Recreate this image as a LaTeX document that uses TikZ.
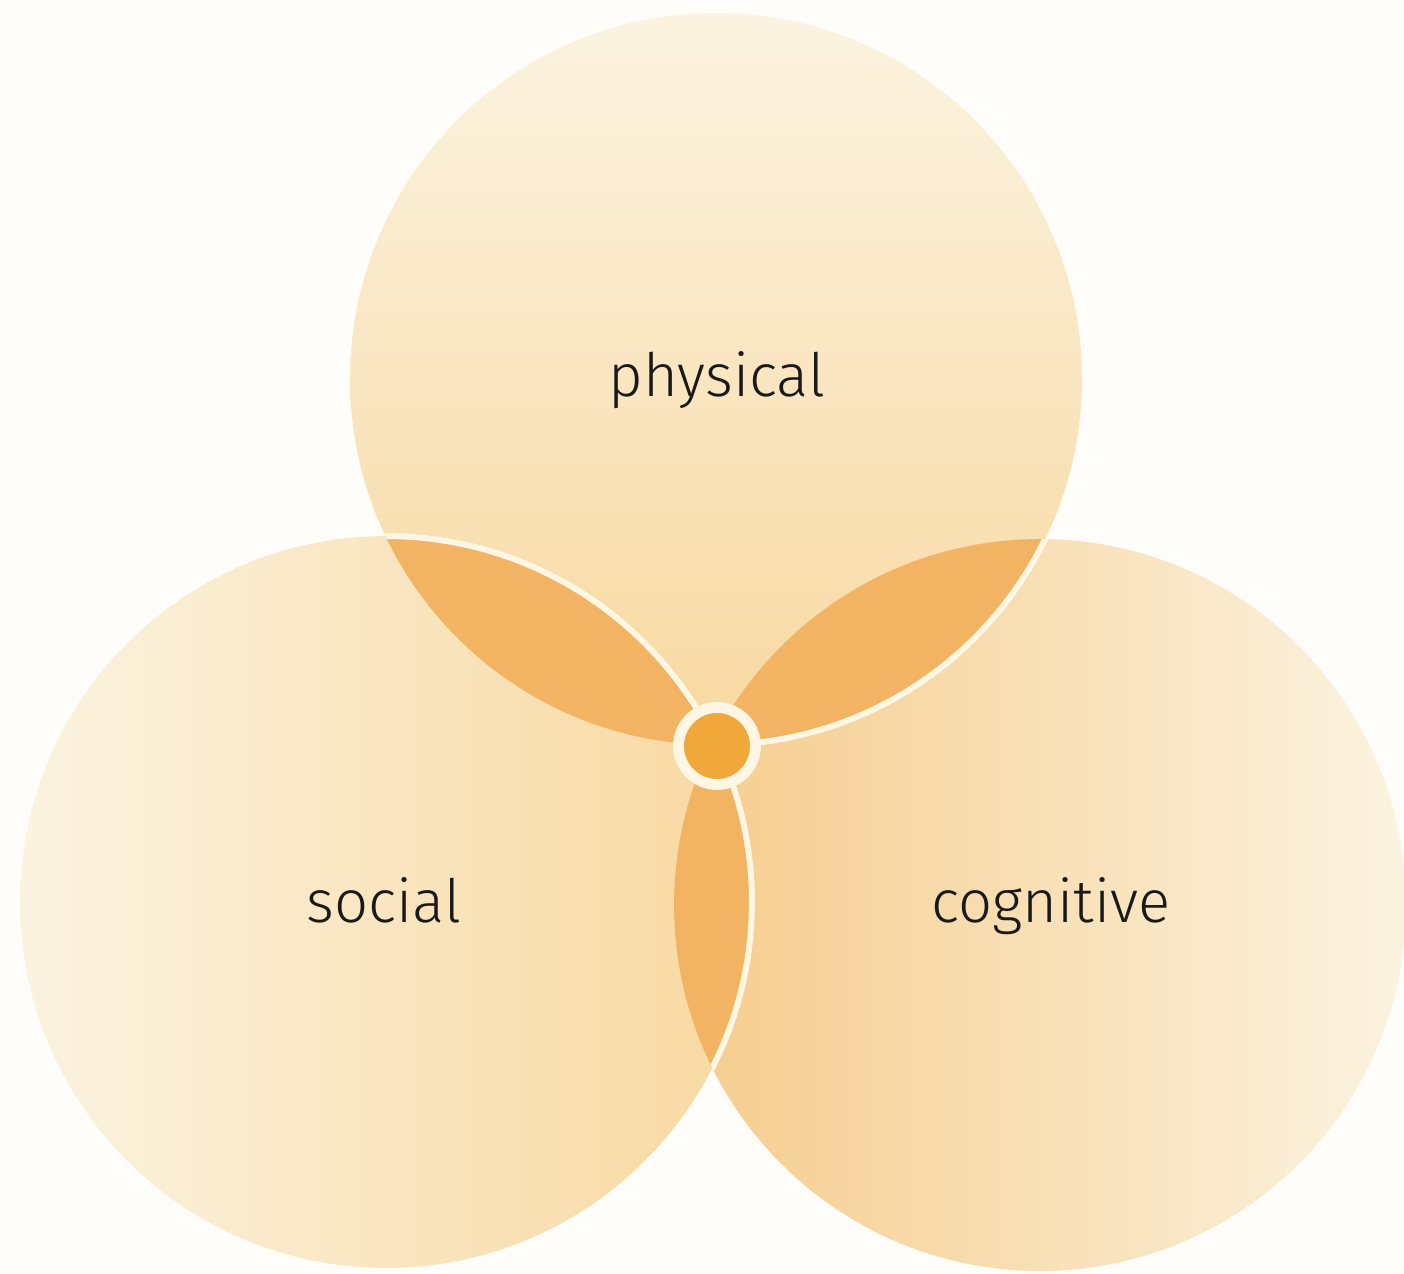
\documentclass[tikz,border=0pt]{standalone}
\usepackage{fontspec}
\setmainfont{Fira Sans Light}
\usepackage{tikz}
\usetikzlibrary{positioning,calc}
\definecolor{vnPaper}{RGB}{254,253,249}
\definecolor{vnPale}{RGB}{251,243,224}
\definecolor{vnPeach}{RGB}{248,216,160}
\definecolor{vnWarm}{RGB}{246,204,140}
\definecolor{vnLens}{RGB}{242,180,98}
\definecolor{vnCore}{RGB}{240,168,58}
\definecolor{vnEdge}{RGB}{255,247,228}

\begin{document}
\begin{tikzpicture}[
    x=0.02cm, y=-0.02cm,
    edge/.style={draw=vnEdge, line width=3.4pt},
    lens/.style={fill=vnLens},
    label/.style={font=\fontsize{34}{40}\selectfont, text=black!90, anchor=base, inner sep=0pt}
]
  \def\rad{7.32cm}
  \useasboundingbox[fill=vnPaper] (0,0) rectangle (1404,1274);

  \coordinate (top) at (716,379);
  \coordinate (left) at (386,902);
  \coordinate (right) at (1040,905);
  \coordinate (core) at (717,746);

  \shade[left color=vnWarm, right color=vnPale] (right) circle[radius=\rad];
  \shade[top color=vnPale, bottom color=vnPeach] (top) circle[radius=\rad];
  \shade[left color=vnPale, right color=vnPeach] (left) circle[radius=\rad];

  \begin{scope}
    \clip (top) circle[radius=\rad];
    \fill[lens] (left) circle[radius=\rad];
    \fill[lens] (right) circle[radius=\rad];
  \end{scope}
  \begin{scope}
    \clip (left) circle[radius=\rad];
    \fill[lens] (right) circle[radius=\rad];
  \end{scope}

  \begin{scope}
    \clip (right) circle[radius=\rad];
    \draw[edge] (top) circle[radius=\rad];
  \end{scope}
  \begin{scope}
    \clip (0,0) rectangle (1404,1274);
    \clip (top) circle[radius=\rad] (right) circle[radius=\rad];
    \draw[edge] (left) circle[radius=\rad];
  \end{scope}

  \node[circle, draw=vnEdge, line width=6.2pt, fill=vnCore, minimum size=1.54cm, inner sep=0pt] (centre) at (core) {};

  \node[label] (physical) at (717,396) {physical};
  \node[label] (social) at (384,922) {social};
  \node[label] (cognitive) at (1051,922) {cognitive};
\end{tikzpicture}
\end{document}
